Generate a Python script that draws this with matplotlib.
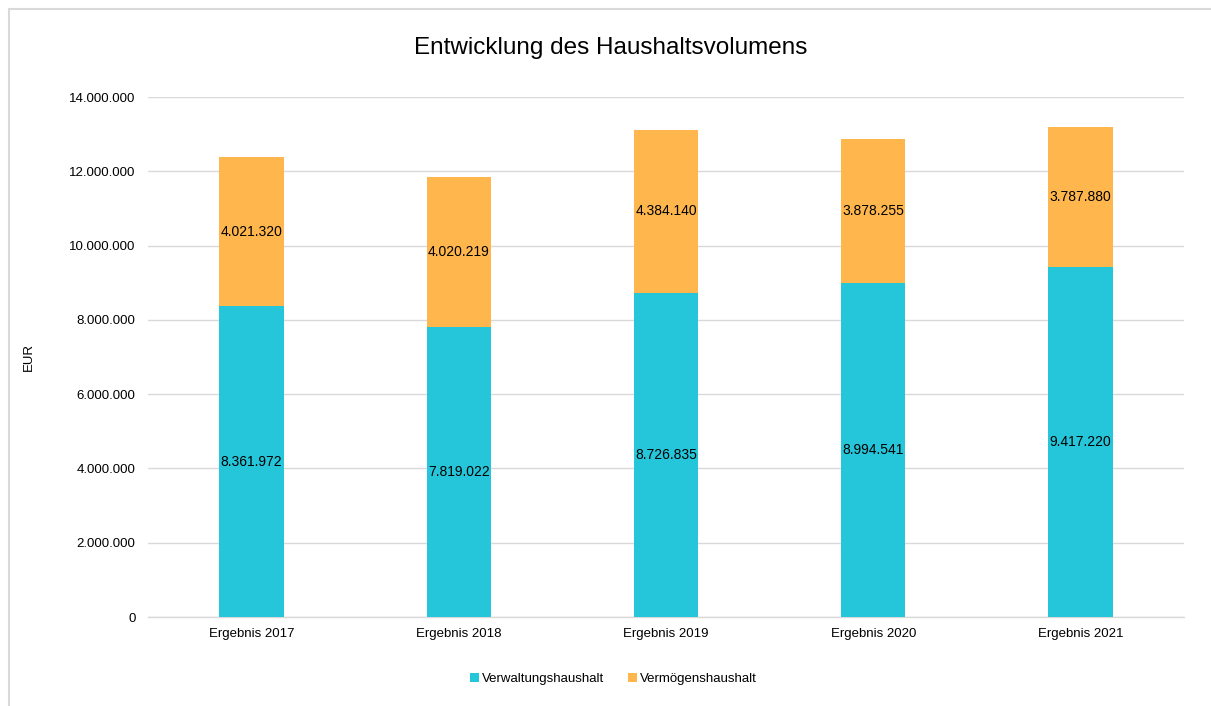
import matplotlib
matplotlib.use("Agg")
import matplotlib.pyplot as plt
from matplotlib.patches import Rectangle
from matplotlib.ticker import FuncFormatter

plt.rcParams['font.family'] = ['Liberation Sans', 'DejaVu Sans']

categories = ["Ergebnis 2017", "Ergebnis 2018", "Ergebnis 2019", "Ergebnis 2020", "Ergebnis 2021"]
verwaltung = [8361972, 7819022, 8726835, 8994541, 9417220]
vermoegen = [4021320, 4020219, 4384140, 3878255, 3787880]
series_names = ["Verwaltungshaushalt", "Vermögenshaushalt"]
colors = ["#26C6DA", "#FFB74D"]

def de_fmt(v):
    return f"{int(round(v)):,}".replace(",", ".")

fig = plt.figure(figsize=(12.11, 7.06), dpi=100)
fig.patches.append(Rectangle((9/1211, -0.1), 1.2, 1 - 9/706 + 0.1, transform=fig.transFigure,
                             fill=False, edgecolor="#D9D9D9", linewidth=1.5))
ax = fig.add_axes([148/1211, 1 - 617/706, (1184 - 148)/1211, (617 - 97)/706])

x = list(range(len(categories)))
w = 0.31
b1 = ax.bar(x, verwaltung, w, color=colors[0], label=series_names[0], zorder=3)
b2 = ax.bar(x, vermoegen, w, bottom=verwaltung, color=colors[1], label=series_names[1], zorder=3)

for i in x:
    ax.text(i, verwaltung[i] / 2, de_fmt(verwaltung[i]), ha="center", va="center", fontsize=10, color="#000000", zorder=4)
    ax.text(i, verwaltung[i] + vermoegen[i] / 2, de_fmt(vermoegen[i]), ha="center", va="center", fontsize=10, color="#000000", zorder=4)

ax.set_xlim(-0.5, 4.5)
ax.set_ylim(0, 14000000)
ax.set_yticks(range(0, 14000001, 2000000))
ax.yaxis.set_major_formatter(FuncFormatter(lambda v, p: de_fmt(v)))
ax.set_xticks(x)
ax.set_xticklabels(categories)
ax.tick_params(axis="both", length=0, labelsize=9.5, colors="#000000")
ax.tick_params(axis="y", pad=9)
ax.tick_params(axis="x", pad=8)
ax.grid(axis="y", color="#D9D9D9", linewidth=1, zorder=0)
for s in ["top", "right", "left"]:
    ax.spines[s].set_visible(False)
ax.spines["bottom"].set_color("#D9D9D9")
ax.spines["bottom"].set_linewidth(1)
ax.set_ylabel("EUR", fontsize=9.5)
ax.yaxis.set_label_coords(-0.109, 0.5)

fig.text(611/1211, 1 - 48/706, "Entwicklung des Haushaltsvolumens", ha="center", va="center", fontsize=17.5)

leg = fig.legend(handles=[b1, b2], labels=series_names, loc="center", bbox_to_anchor=(613/1211, 1 - 679/706),
                 ncol=2, frameon=False, fontsize=9.5, handlelength=0.7, handleheight=0.7,
                 handletextpad=0.2, columnspacing=1.8)

fig.savefig("out.png", dpi=100)
